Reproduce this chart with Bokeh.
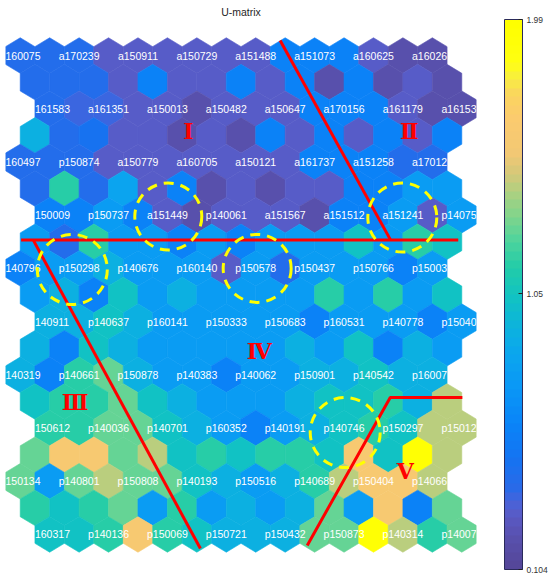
import numpy as np
from bokeh.plotting import figure
from bokeh.models import ColumnDataSource, LinearColorMapper, ColorBar, FixedTicker, Range1d
from bokeh.core.properties import value
from bokeh.embed import file_html
from bokeh.resources import INLINE

# ---------------- data ----------------
# U-matrix values, 19 rows x 15 columns (read from the colours of the picture)
umat = [
    [0.42, 0.42, 0.42, 0.29, 0.29, 0.29, 0.29, 0.29, 0.29, 0.60, 0.60, 0.60, 0.29, 0.20, 0.20],
    [0.42, 0.42, 0.42, 0.29, 0.60, 0.29, 0.29, 0.60, 0.29, 0.60, 0.20, 0.60, 0.20, 0.29, 0.20],
    [0.42, 0.36, 0.36, 0.29, 0.29, 0.22, 0.29, 0.29, 0.29, 0.60, 0.60, 0.60, 0.29, 0.20, 0.20],
    [0.92, 0.42, 0.48, 0.29, 0.29, 0.20, 0.29, 0.20, 0.60, 0.29, 0.60, 0.29, 0.60, 0.29, 0.60],
    [0.42, 0.42, 0.42, 0.29, 0.29, 0.29, 0.29, 0.29, 0.29, 0.29, 0.60, 0.60, 0.60, 0.42, 0.42],
    [0.42, 1.15, 0.42, 0.84, 0.29, 0.60, 0.20, 0.29, 0.20, 0.29, 0.29, 0.60, 0.60, 0.76, 0.76],
    [0.60, 0.60, 0.76, 0.60, 0.29, 0.20, 0.29, 0.29, 0.29, 0.20, 0.60, 0.60, 0.76, 0.29, 0.76],
    [0.76, 0.42, 1.15, 0.76, 0.76, 0.60, 0.76, 0.60, 0.76, 0.76, 0.76, 1.03, 0.76, 1.15, 1.03],
    [0.60, 0.76, 0.76, 0.92, 0.76, 0.76, 0.76, 0.29, 0.76, 0.42, 0.76, 0.76, 0.76, 0.60, 0.76],
    [0.76, 0.92, 0.60, 1.03, 0.76, 0.92, 0.76, 0.76, 0.76, 0.76, 1.15, 0.76, 1.15, 0.76, 1.03],
    [0.92, 0.92, 1.03, 0.92, 0.76, 0.76, 0.76, 0.76, 0.76, 0.60, 0.76, 0.76, 0.76, 0.60, 0.76],
    [0.92, 0.60, 1.03, 0.92, 0.76, 0.76, 0.76, 0.76, 0.76, 0.92, 0.76, 1.03, 0.60, 0.92, 0.76],
    [0.92, 0.60, 1.15, 1.28, 0.92, 0.76, 0.76, 0.60, 0.76, 0.76, 0.92, 0.92, 1.03, 0.92, 0.92],
    [1.03, 1.15, 1.15, 1.28, 1.03, 0.92, 0.76, 0.76, 0.76, 0.92, 1.03, 1.03, 1.15, 0.92, 1.42],
    [1.15, 1.15, 1.28, 1.28, 1.03, 0.92, 0.76, 0.60, 0.76, 0.92, 1.03, 1.15, 1.03, 1.42, 1.42],
    [1.28, 1.60, 1.60, 1.28, 1.42, 1.03, 1.15, 1.03, 1.15, 1.15, 1.03, 1.60, 1.03, 1.95, 1.42],
    [1.28, 0.76, 1.28, 1.42, 1.28, 1.28, 1.03, 0.92, 0.76, 0.92, 1.15, 1.42, 1.60, 1.60, 1.42],
    [1.15, 1.03, 1.15, 1.28, 0.76, 1.15, 0.76, 0.92, 0.76, 0.92, 1.28, 0.76, 1.60, 0.60, 1.28],
    [1.03, 1.03, 1.15, 1.60, 1.15, 1.03, 0.92, 0.92, 0.92, 1.28, 1.28, 1.95, 1.42, 1.15, 1.28],
]

# sample names on the map units (every second row / column of the U-matrix)
names_r00 = ["160075", "a170239", "a150911", "a150729", "a151488", "a151073", "a160625", "a16026"]
names_r02 = ["161583", "a161351", "a150013", "a150482", "a150647", "a170156", "a161179", "a16153"]
names_r04 = ["160497", "p150874", "a150779", "a160705", "a150121", "a161737", "a151258", "a17012"]
names_r06 = ["150009", "p150737", "a151449", "p140061", "a151567", "a151512", "a151241", "p14075"]
names_r08 = ["140796", "p150298", "p140676", "p160140", "p150578", "p150437", "p150766", "p15003"]
names_r10 = ["140911", "p140637", "p160141", "p150333", "p150683", "p160531", "p140778", "p15040"]
names_r12 = ["140319", "p140661", "p150878", "p140383", "p140062", "p150901", "p140542", "p16007"]
names_r14 = ["150612", "p140036", "p140701", "p160352", "p140191", "p140746", "p150297", "p15012"]
names_r16 = ["150134", "p140801", "p150808", "p140193", "p150516", "p140689", "p150404", "p14066"]
names_r18 = ["160317", "p140136", "p150069", "p150721", "p150432", "p150873", "p140314", "p14007"]
label_rows = [names_r00, names_r02, names_r04, names_r06, names_r08,
              names_r10, names_r12, names_r14, names_r16, names_r18]

vmin, vmax = 0.104, 1.99
cbar_ticks = [0.104, 1.05, 1.99]
cbar_labels = ["0.104", "1.05", "1.99"]

# annotations (grid units: x = hex column, y = -row)
region_names = ["Ⅰ", "Ⅱ", "Ⅲ", "Ⅳ", "Ⅴ"]
region_x = [5.71, 13.22, 1.87, 8.12, 13.08]
region_y = [-2.82, -2.82, -13.04, -11.12, -15.6]
boundary_x = [[8.83, 12.57], [0.03, 14.88], [0.44, 6.12], [9.75, 12.57, 15.02]]
boundary_y = [[0.56, -6.91], [-6.93, -6.93], [-6.93, -18.53], [-18.41, -12.85, -12.85]]
circle_x = [5.03, 1.77, 8.05, 12.98, 11.04]
circle_y = [-6.05, -8.04, -8.0, -6.09, -14.17]
circle_d = [67, 70, 68, 69, 70]   # diameters in px

# ---------------- colour map ----------------
stops = [(0.00, "#55479a"), (0.05, "#5850ad"), (0.09, "#5a5ac4"), (0.115, "#4a62d8"),
         (0.14, "#2a6ae8"), (0.20, "#1474f2"), (0.26, "#0a84f8"), (0.33, "#0a98f6"),
         (0.40, "#0ba8ec"), (0.45, "#0db6d8"), (0.50, "#12c4c0"), (0.55, "#22cca8"),
         (0.60, "#50d49c"), (0.65, "#86d48a"), (0.69, "#b0d080"), (0.72, "#d2c87a"),
         (0.76, "#f2c874"), (0.83, "#fccb6e"), (0.87, "#fad65e"), (0.90, "#f8ee40"),
         (0.93, "#ffff10"), (1.00, "#ffff00")]


def _rgb(h):
    return [int(h[i:i + 2], 16) for i in (1, 3, 5)]


sf = np.array([s[0] for s in stops])
sc = np.array([_rgb(s[1]) for s in stops], dtype=float)
palette = []
for f in np.linspace(0, 1, 64):
    c = [int(round(np.interp(f, sf, sc[:, k]))) for k in range(3)]
    palette.append("#%02x%02x%02x" % tuple(c))

mapper = LinearColorMapper(palette=palette, low=vmin, high=vmax)

# ---------------- geometry ----------------
R = 2.0 / 3.0
hx = [0, 0.5, 0.5, 0, -0.5, -0.5]
hy = [R, R / 2, -R / 2, -R, -R / 2, R / 2]
offsets = [0.0, 0.5, 1.0, 0.5]

xs, ys, vals = [], [], []
for r, row in enumerate(umat):
    for j, v in enumerate(row):
        xc = j + offsets[r % 4]
        yc = -r
        xs.append([xc + d for d in hx])
        ys.append([yc + d for d in hy])
        vals.append(v)
hex_src = ColumnDataSource(dict(xs=xs, ys=ys, val=vals))

lab = {"left": dict(x=[], y=[], t=[]), "center": dict(x=[], y=[], t=[]), "right": dict(x=[], y=[], t=[])}
for k, names in enumerate(label_rows):
    r = 2 * k
    for m, t in enumerate(names):
        j = 2 * m
        xc = j + offsets[r % 4]
        if m == 0:
            g, x = "left", xc - 0.5
        elif m == len(names) - 1:
            g, x = "right", xc + 0.5
        else:
            g, x = "center", xc
        lab[g]["x"].append(x)
        lab[g]["y"].append(-r)
        lab[g]["t"].append(t)

# ---------------- figure ----------------
p = figure(frame_width=471, frame_height=550, output_backend="svg", toolbar_location=None,
           x_axis_type=None, y_axis_type=None,
           x_range=Range1d(-0.5, 15.5), y_range=Range1d(-19.316, 1.353),
           min_border_left=5, min_border_top=19, min_border_bottom=7, min_border_right=72,
           title="U-matrix")
p.title.align = "center"
p.title.text_font = "Liberation Sans"
p.title.text_font_size = "10.5px"
p.title.text_font_style = "normal"
p.title.text_color = "#262626"
p.title.standoff = 3
p.outline_line_color = None
p.grid.visible = False
p.background_fill_color = "white"
p.border_fill_color = "white"

p.patches("xs", "ys", source=hex_src,
          fill_color={"field": "val", "transform": mapper},
          line_color={"field": "val", "transform": mapper}, line_width=0.6)

for g, src in lab.items():
    p.text(x=src["x"], y=src["y"], text=src["t"], text_align=g, text_baseline="middle",
           text_font=value("Liberation Sans"), text_font_size="10.5px", text_color="white")

for bx, by in zip(boundary_x, boundary_y):
    p.line(bx, by, line_color="#ff0000", line_width=3)

p.scatter(circle_x, circle_y, size=circle_d, marker="circle", fill_color=None,
          line_color="#ffff00", line_width=3, line_dash="10 7")

p.text(x=region_x, y=region_y, text=region_names, text_align="center", text_baseline="middle",
       text_font=value("DejaVu Serif"), text_font_style="bold", text_font_size="22px",
       text_color="#ff0000")

cb = ColorBar(color_mapper=mapper, ticker=FixedTicker(ticks=cbar_ticks),
              major_label_overrides=dict(zip(cbar_ticks, cbar_labels)),
              width=18, height=550, padding=0, margin=0, label_standoff=4,
              location=(28, 0),
              major_label_text_font_size="8.5px", major_label_text_color="#333333",
              major_label_text_font="Liberation Sans",
              major_tick_in=4, major_tick_out=0, major_tick_line_color="#222222",
              bar_line_color="#2a2a5a", bar_line_width=1,
              background_fill_color=None, border_line_color=None)
p.add_layout(cb, "right")

open("out.html", "w").write(file_html(p, INLINE))
